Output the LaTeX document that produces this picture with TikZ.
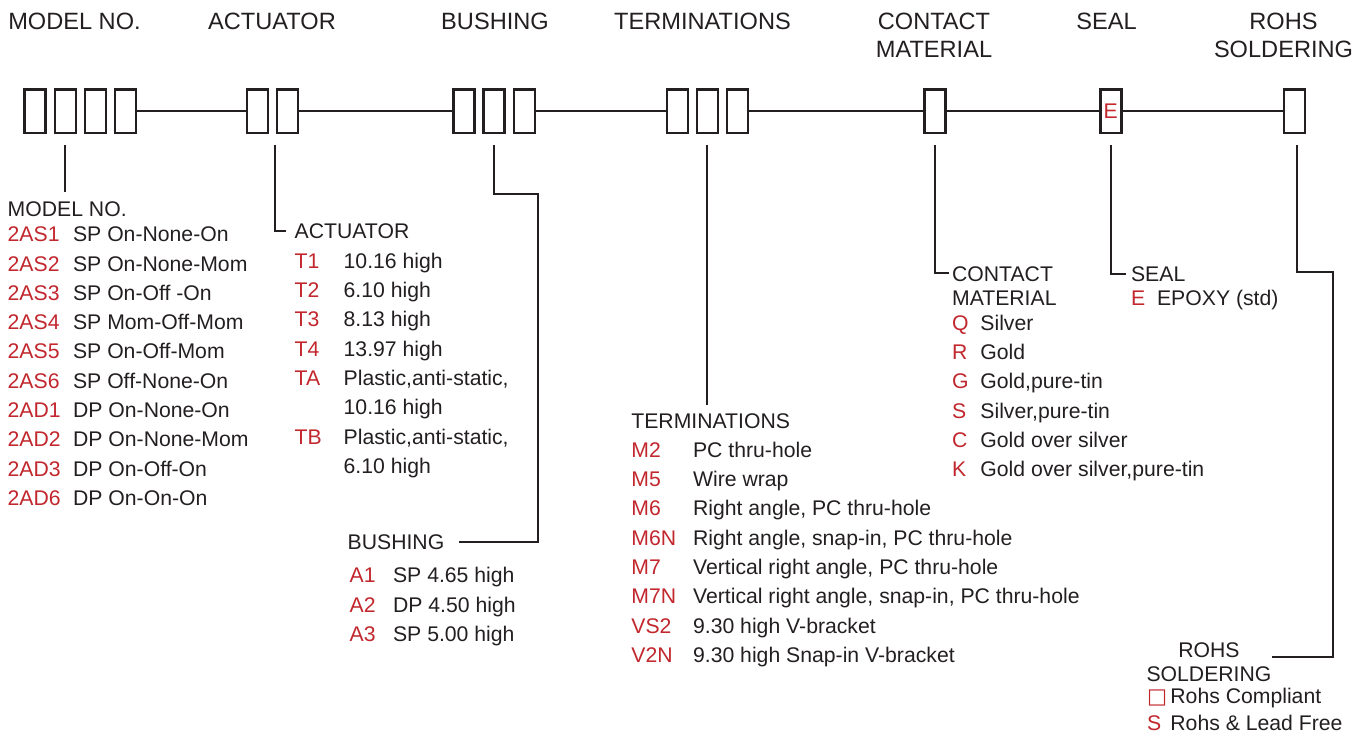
\documentclass[tikz,border=0pt]{standalone}
\usepackage{fontspec}
\setmainfont{Liberation Sans}
\newfontfamily\symfont{DejaVu Sans}
\usepackage{array}
\usepackage{xcolor}
\usetikzlibrary{positioning, calc}
\definecolor{codered}{HTML}{C1272D}
\definecolor{inkgray}{HTML}{231F20}
\newcommand\listfont{\fontsize{10.6}{14.65}\selectfont}

\begin{document}
\begin{tikzpicture}[x=0.5pt, y=-0.5pt, node distance=4.6pt,
    slot/.style={draw=inkgray, line width=1.2pt, minimum width=10.5pt,
                 minimum height=21.65pt, inner sep=0pt, outer sep=0pt,
                 text=codered, font=\listfont},
    title/.style={inner sep=0pt, text=inkgray, align=center, anchor=north,
                  font=\fontsize{11.8}{14}\selectfont},
    head/.style={inner sep=0pt, text=inkgray, font=\fontsize{10.6}{12.2}\selectfont},
    list/.style={inner sep=0pt, text=inkgray, font=\listfont, anchor=base west},
    wire/.style={draw=inkgray, line width=1.2pt},
    lead/.style={draw=inkgray, line width=1pt}]
  \useasboundingbox (0,0) rectangle (1356,736);

  % titles over the slots
  \node[title] (tmodel) at (74.5,12.6) {MODEL NO.};
  \node[title] (tact)   at (272,12.6)  {ACTUATOR};
  \node[title] (tbush)  at (495,12.6)  {BUSHING};
  \node[title] (tterm)  at (702.5,12.6) {TERMINATIONS};
  \node[title] (tcont)  at (934,12.6)  {CONTACT\\MATERIAL};
  \node[title] (tseal)  at (1106.5,12.6) {SEAL};
  \node[title] (trohs)  at (1283.5,12.6) {ROHS\\SOLDERING};

  % part number slots
  \node[slot] (m1) at (35,111.2) {};
  \node[slot, right=of m1] (m2) {};
  \node[slot, right=of m2] (m3) {};
  \node[slot, right=of m3] (m4) {};
  \node[slot] (a1) at (257.5,111.2) {};
  \node[slot, right=of a1] (a2) {};
  \node[slot] (b1) at (463.9,111.2) {};
  \node[slot, right=of b1] (b2) {};
  \node[slot, right=of b2] (b3) {};
  \node[slot] (t1) at (677.2,111.2) {};
  \node[slot, right=of t1] (t2) {};
  \node[slot, right=of t2] (t3) {};
  \node[slot] (c1) at (935,111.2) {};
  \node[slot] (s1) at (1110.8,111.2) {E};
  \node[slot] (r1) at (1294.3,111.2) {};
  \draw[wire] (m4.east) -- (a1.west) (a2.east) -- (b1.west) (b3.east) -- (t1.west)
              (t3.east) -- (c1.west) (c1.east) -- (s1.west) (s1.east) -- (r1.west);

  % option lists
  \node[head, anchor=base west] (mhead) at (7.3,216.7) {MODEL NO.};
  \node[list] (mlist) at (7.3,241.7) {\begin{tabular}[t]{@{}>{\color{codered}}w{l}{32.7pt}@{}l@{}}
    2AS1 & SP On-None-On\\
    2AS2 & SP On-None-Mom\\
    2AS3 & SP On-Off -On\\
    2AS4 & SP Mom-Off-Mom\\
    2AS5 & SP On-Off-Mom\\
    2AS6 & SP Off-None-On\\
    2AD1 & DP On-None-On\\
    2AD2 & DP On-None-Mom\\
    2AD3 & DP On-Off-On\\
    2AD6 & DP On-On-On
  \end{tabular}};

  \node[head, anchor=base west] (ahead) at (294.3,238.3) {ACTUATOR};
  \node[list] (alist) at (294.3,268.3) {\begin{tabular}[t]{@{}>{\color{codered}}w{l}{24.5pt}@{}l@{}}
    T1 & 10.16 high\\
    T2 & 6.10 high\\
    T3 & 8.13 high\\
    T4 & 13.97 high\\
    TA & Plastic,anti-static,\\
       & 10.16 high\\
    TB & Plastic,anti-static,\\
       & 6.10 high
  \end{tabular}};

  \node[head, anchor=base west] (bhead) at (347.3,549.3) {BUSHING};
  \node[list] (blist) at (349.3,582.7) {\begin{tabular}[t]{@{}>{\color{codered}}w{l}{21.7pt}@{}l@{}}
    A1 & SP 4.65 high\\
    A2 & DP 4.50 high\\
    A3 & SP 5.00 high
  \end{tabular}};

  \node[head, anchor=base west] (thead) at (631,428.3) {TERMINATIONS};
  \node[list] (tlist) at (631,457.3) {\begin{tabular}[t]{@{}>{\color{codered}}w{l}{30.85pt}@{}l@{}}
    M2 & PC thru-hole\\
    M5 & Wire wrap\\
    M6 & Right angle, PC thru-hole\\
    M6N & Right angle, snap-in, PC thru-hole\\
    M7 & Vertical right angle, PC thru-hole\\
    M7N & Vertical right angle, snap-in, PC thru-hole\\
    VS2 & 9.30 high V-bracket\\
    V2N & 9.30 high Snap-in V-bracket
  \end{tabular}};

  \node[head, align=left, anchor=north west] (chead) at (951.7,265.8) {CONTACT\\MATERIAL};
  \node[list] (clist) at (951.7,330.3) {\begin{tabular}[t]{@{}>{\color{codered}}w{l}{14.15pt}@{}l@{}}
    Q & Silver\\
    R & Gold\\
    G & Gold,pure-tin\\
    S & Silver,pure-tin\\
    C & Gold over silver\\
    K & Gold over silver,pure-tin
  \end{tabular}};

  \node[head, anchor=base west] (shead) at (1130.7,281) {SEAL};
  \node[list] (slist) at (1130.7,305) {\begin{tabular}[t]{@{}>{\color{codered}}w{l}{13pt}@{}l@{}}
    E & EPOXY (std)
  \end{tabular}};

  \node[head, align=center, anchor=north] (rhead) at (1209,642.1) {ROHS\\SOLDERING};
  \node[list] (rlist) at (1146.7,703.3) {\begin{tabular}[t]{@{}>{\color{codered}}w{l}{11.65pt}@{}l@{}}
    {\symfont □} & Rohs Compliant\\[-1.3pt]
    S & Rohs \& Lead Free
  \end{tabular}};

  % leads from the slots to the lists
  \coordinate (bbend) at (538.3,194);
  \coordinate (rbend) at (1332.7,272.3);
  \draw[lead] ([yshift=-6pt]m2.south) -- ($(m2.south |- mhead.north)+(0,-9.3)$);
  \draw[lead] ([xshift=-1pt,yshift=-6pt]a2.south west) |- ([xshift=-4.15pt]ahead.west);
  \draw[lead] ([yshift=-6pt]b2.south) |- (bbend) |- ([xshift=7.2pt]bhead.east);
  \draw[lead] ([yshift=-6pt]t2.south) -- ($(t2.south |- thead.north)+(0,-8)$);
  \draw[lead] ([yshift=-6pt]c1.south) |- ([xshift=-1.35pt,yshift=-3.75pt]chead.north west);
  \draw[lead] ([yshift=-6pt]s1.south) |- ([xshift=-2.35pt]shead.west);
  \draw[lead] ([xshift=1.2pt,yshift=-6pt]r1.south) |- (rbend) |- ($(rhead.north east)+(0,15.2)$);
\end{tikzpicture}
\end{document}
